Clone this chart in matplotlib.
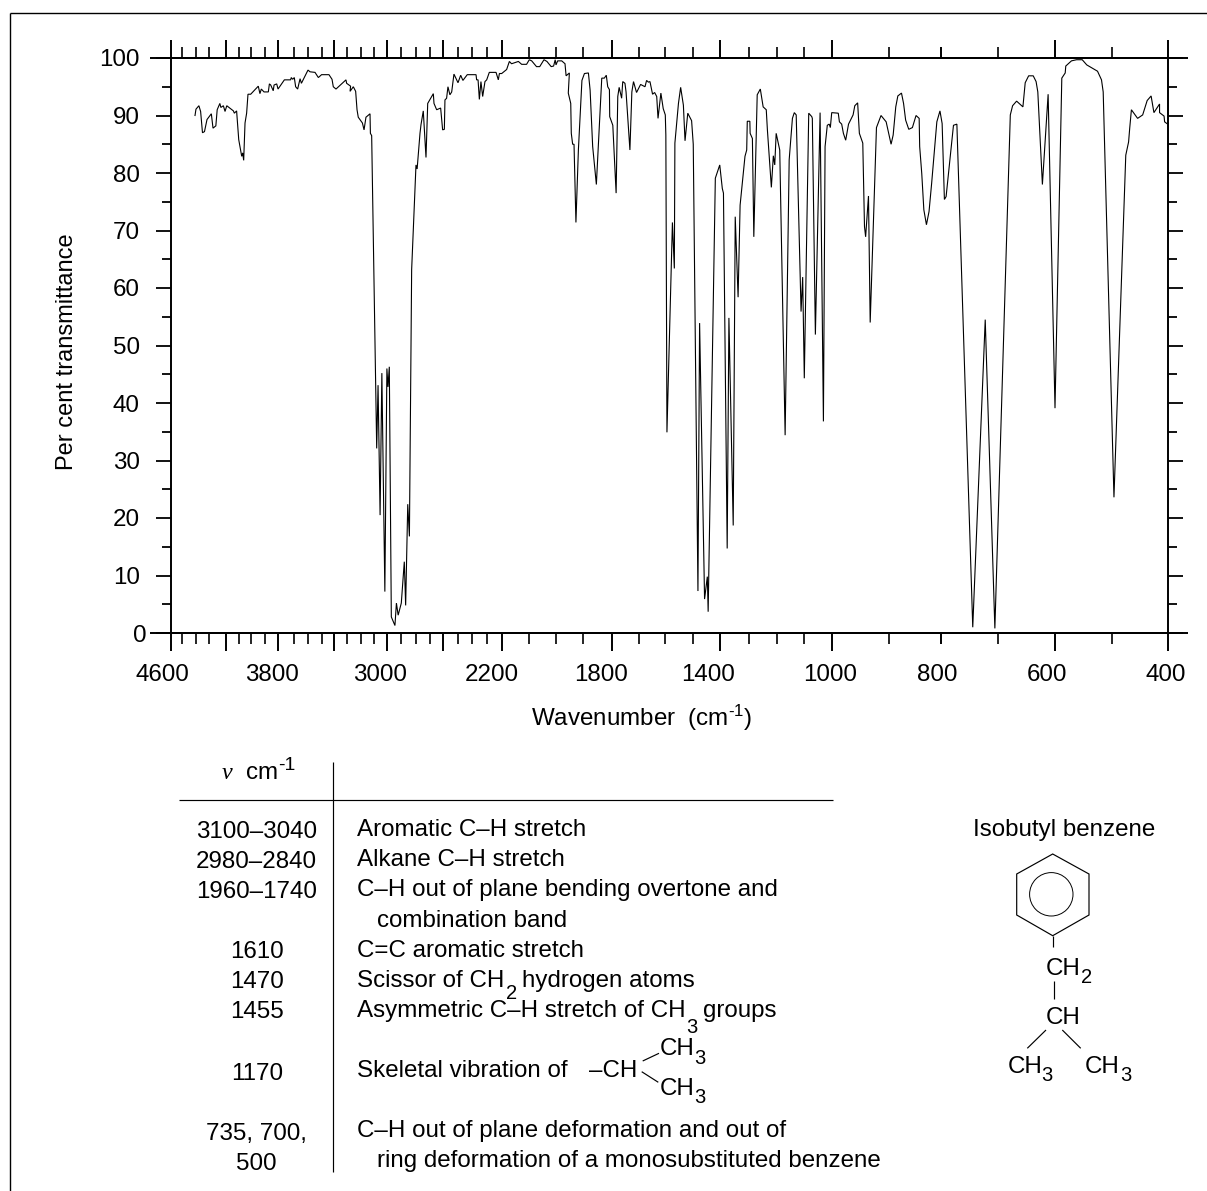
import numpy as np
import matplotlib
matplotlib.use("Agg")
import matplotlib.pyplot as plt
from matplotlib.transforms import ScaledTranslation
from matplotlib.patches import Circle, Polygon

plt.rcParams['font.family'] = 'Liberation Sans'
plt.rcParams['mathtext.fontset'] = 'custom'
plt.rcParams['mathtext.rm'] = 'Liberation Sans'
plt.rcParams['mathtext.it'] = 'Liberation Sans:italic'
plt.rcParams['mathtext.default'] = 'rm'

# --- spectrum ----------------------------------------------------------
wavenumber = [
 4405,4398,4376,4363,4349,4334,4315,4286,4276,4259,4251,4235,4229,4214,4204,4192,4142,4135,4118,4110,4102,
 4078,4070,4062,4051,4038,4027,4005,3949,3937,3927,3907,3875,3867,3857,3838,3832,3812,3802,3762,3723,3719,
 3710,3700,3690,3675,3657,3647,3598,3584,3550,3527,3505,3443,3417,3406,3385,3310,3305,3276,3280,3256,3239,
 3229,3220,3189,3176,3161,3129,3126,3116,
 3078,3068,3053,3040,3018,3003,2995,2985,2970,2943,2932,2919,2896,2876,2867,2853,2842,2827,
 2798,2790,2770,2763,2747,2728,2716,2675,2670,2650,2620,2605,2593,2589,2578,2569,2556,2544,2529,2522,2502,
 2483,2467,2436,2374,2370,2360,2351,2340,2328,2312,2300,2283,2239,2224,2217,2202,2183,2173,2165,2140,2128,
 2110,2100,2091,2073,2061,2045,2034,2018,2009,2003,2000,1994,1979,1967,
 1963,1951,1955,1946,1944,1939,1934,1927,1918,1905,1896,1882,1876,1867,1854,1835,1826,1819,1814,1808,1807,
 1796,1784,1778,1773,1764,1760,1752,1748,1734,1727,1721,1710,1695,1678,1672,1665,1659,1649,1641,1633,1628,
 1617,1608,1600,1598,1594,1574,1567,1565,1552,1544,1534,1528,1518,1504,1498,
 1481,1475,1457,1447,1444,1418,1402,1393,1389,1376,1370,1355,1348,1338,1331,1314,1308,1306,1297,1296,1288,
 1283,1271,1260,1250,1239,1235,1221,1214,1209,1204,1191,1171,1156,1144,1137,1130,1112,1106,1100,1084,1073,
 1071,1060,1043,1031,1025,1017,1010,1006,1001,989,987,983,980,976,971,963,960,955,952,
 946,943,941,936,933,922,914,905,896,892,887,883,876,872,868,862,855,848,842,841,837,833,828,823,818,808,802,
 798,794,791,778,772,744,722,705,678,674,667,656,652,646,638,633,630,622,612,600,588,582,581,571,562,552,544,
 525,518,515,496,475,470,468,465,454,445,437,430,425,415,415,407,406,402]

transmittance = [
 90.0,91.1,91.7,90.7,87.0,87.2,89.3,90.3,87.8,88.2,91.0,92.1,91.4,91.7,90.7,91.7,90.8,90.4,90.8,88.4,85.8,
 82.9,83.5,82.2,88.7,90.4,93.7,93.7,95.1,93.8,94.6,94.1,94.1,95.5,95.3,94.3,95.3,95.5,94.6,96.2,96.2,96.6,
 96.3,96.6,95.0,94.6,96.4,95.6,97.9,97.6,97.5,96.6,97.1,97.1,96.3,95.0,94.6,96.2,95.6,95.1,94.2,95.0,94.2,
 91.0,89.7,88.7,87.5,89.7,90.3,86.9,86.5,
 32.1,43.1,20.5,45.2,7.2,46.0,42.8,46.3,2.8,1.3,5.2,3.1,5.2,12.4,4.8,22.4,16.8,63.2,
 81.4,80.7,86.9,88.4,90.8,82.7,92.1,93.8,92.1,91.0,91.3,87.5,87.6,92.7,93.0,95.0,93.6,94.1,97.2,96.8,95.7,
 97.0,96.1,97.1,97.1,96.2,96.2,92.8,95.9,93.3,95.9,96.2,97.5,97.5,96.2,97.3,97.3,98.0,99.4,99.0,99.4,98.9,
 98.9,99.7,99.5,98.5,98.5,99.7,99.4,98.5,98.6,99.7,98.8,99.5,99.5,99.0,
 96.9,97.4,93.9,92.1,86.9,85.0,85.0,71.4,84.0,96.1,97.3,97.4,94.4,84.6,78.0,96.5,96.5,97.0,95.0,94.5,89.8,
 88.3,76.5,93.3,94.9,93.0,95.9,95.6,94.1,84.0,94.1,95.9,94.0,95.4,95.0,96.1,95.8,95.9,93.7,94.0,93.3,89.5,
 93.9,91.2,90.1,86.6,34.9,71.4,63.4,85.2,92.1,94.9,91.8,85.6,90.4,89.1,85.0,
 7.3,53.9,5.9,9.8,3.7,79.1,81.4,77.3,76.5,14.7,54.8,18.7,72.4,58.4,74.4,82.9,84.0,89.0,89.0,86.9,86.0,
 68.9,93.6,94.6,91.5,91.0,87.5,77.5,83.0,81.4,86.9,84.0,34.4,82.3,89.5,90.5,90.1,55.9,61.9,44.3,90.4,89.8,
 89.5,51.9,90.5,36.8,84.6,88.3,88.5,87.9,90.5,90.4,88.9,88.5,86.9,85.7,88.5,90.1,91.7,92.2,86.9,
 85.2,70.7,68.9,76.0,54.0,87.9,90.0,88.9,85.0,86.6,91.5,93.4,93.9,92.1,89.2,87.6,87.9,90.0,89.5,84.6,79.9,73.6,
 71.0,73.3,78.2,88.9,90.8,88.6,75.4,75.9,88.3,88.5,1.0,54.5,0.8,90.1,91.7,92.5,91.5,95.7,96.9,96.9,95.9,94.1,
 78.0,93.7,39.1,96.5,97.4,98.6,99.5,99.7,99.7,98.8,97.7,96.2,94.1,23.6,83.1,85.4,87.8,91.0,89.5,90.1,92.6,93.4,
 90.5,92.0,90.5,89.9,88.9,88.6]

# --- axis scale: tick spacing of the printed chart changes along the axis
knot_wn = [4600,4500,4400,4300,4200,4100,4000,3900,3800,3700,3600,3500,3400,3300,3200,3100,3000,2900,2800,2700,
           2600,2500,2400,2300,2200,2100,2000,1900,1800,1700,1600,1500,1400,1300,1200,1100,1000,900,800,700,600,500,400]
knot_px = [170.5,182,195.7,209,225.7,239,251.3,265,278.3,294.3,307.7,322.3,334,347.3,361,373.7,387.3,400.7,415.7,430,
           443.3,458.3,472.3,486.7,502,529.3,556,583.3,611.7,639.3,665.3,692.7,720.3,749,777.3,804.3,832,889,941,997.7,1055,1111.7,1168]
wn_asc, neg_px = np.array(knot_wn[::-1], float), -np.array(knot_px[::-1], float)

def forward(w):
    return np.interp(w, wn_asc, neg_px)

def inverse(p):
    return np.interp(p, neg_px, wn_asc)

major_wn = [4600,4200,3800,3400,3000,2600,2200,1800,1400,1000,800,600,400]
major_labels = ['4600','','3800','','3000','','2200','1800','1400','1000','800','600','400']
label_shift_px = [-8,0,-6,0,-7,0,-10,-11,-12,-1.5,-4,-8,-2]
y_major = list(range(0, 101, 10))
y_minor = list(range(5, 100, 10))

W, H = 1207, 1191
FS = 17.4
fig = plt.figure(figsize=(W/100, H/100), dpi=100, facecolor='white')
L, R, T, B = 170.5, 1168, 58, 633
ax = fig.add_axes([L/W, 1-B/H, (R-L)/W, (B-T)/H])
ax.set_xscale('function', functions=(forward, inverse))
ax.plot(wavenumber, transmittance, color='black', lw=0.8, solid_joinstyle='miter', clip_on=False)

ax.set_xticks(major_wn, major_labels)
ax.set_xticks([w for w in knot_wn if w not in major_wn], minor=True)
ax.set_xlim(4600, 400)
ax.set_ylim(0, 100)
ax.set_yticks(y_major)
ax.set_yticks(y_minor, minor=True)
ax.tick_params(axis='x', which='major', direction='out', top=True, bottom=True, length=13, width=1.4, labelsize=FS, pad=9.5)
ax.tick_params(axis='x', which='minor', direction='out', top=True, bottom=True, length=7.6, width=1.2)
ax.tick_params(axis='y', which='major', direction='out', left=True, right=True, length=10.8, width=1.3, labelsize=FS, pad=11.5)
ax.tick_params(axis='y', which='minor', direction='out', left=True, right=True, length=6.2, width=1.3)
for s in ax.spines.values():
    s.set_linewidth(1.4)

for tick, w, dx in zip(ax.xaxis.get_major_ticks(), major_wn, label_shift_px):
    tick.label1.set_transform(tick.label1.get_transform() + ScaledTranslation(dx/100, 0, fig.dpi_scale_trans))
    if w == 800:
        tick.tick1line.set_markersize(7.6)
        tick.tick2line.set_markersize(7.6)
for tick, v in zip(ax.yaxis.get_major_ticks(), y_major):
    if v == 0:
        tick.label1.set_transform(tick.label1.get_transform() + ScaledTranslation(7/100, 0, fig.dpi_scale_trans))

ax.set_xlabel("Wavenumber  (cm$^{\u20101}$)", fontsize=FS)
ax.xaxis.set_label_coords(0.472, -0.1217)
ax.set_ylabel("Per cent transmittance", fontsize=17.0)
ax.yaxis.set_label_coords(-0.0925, 0.489)

# --- overlay in picture coordinates for the frame, table and structure --
ov = fig.add_axes([0, 0, 1, 1], facecolor='none')
ov.set_xlim(0, W)
ov.set_ylim(H, 0)
ov.axis('off')

def line(xs, ys, lw=0.85):
    ov.plot(xs, ys, color='black', lw=lw, solid_capstyle='butt')

def txt(x, y, s, size=FS, ha='left', **kw):
    ov.text(x, y, s, fontsize=size, ha=ha, va='baseline', color='black', **kw)

# outer frame
line([9.5, 9.5], [12.5, H], 1.0)
line([9.5, W], [12.5, 12.5], 1.0)
# long 100 and 0 rules
line([150, 1188], [T, T], 1.4)
line([150, 1188], [B, B], 1.4)

# table
line([333.3, 333.3], [762, 1172])
line([178.7, 833], [799.5, 799.5])
ov.text(221.7, 779, "\u03bd", fontsize=FS, family='Liberation Serif', style='italic', va='baseline')
txt(245.7, 779, "cm")
txt(277.7, 770, "-1", 14)

freq = ["3100\u20133040", "2980\u20132840", "1960\u20131740", "1610", "1470", "1455", "1170", "735, 700,", "500"]
freq_y = [838, 868, 898, 958, 988, 1018, 1080, 1140, 1170]
for s, y in zip(freq, freq_y):
    txt(256.7, y, s, ha='center')

txt(356.7, 836, "Aromatic C\u2013H stretch")
txt(356.7, 866, "Alkane C\u2013H stretch")
txt(356.7, 896, "C\u2013H out of plane bending overtone and")
txt(376.7, 927, "combination band")
txt(356.7, 957, "C=C aromatic stretch")
txt(356.7, 987, "Scissor of CH")
txt(505.7, 999, "2", 14.5)
txt(521.7, 987, "hydrogen atoms")
txt(356.7, 1017, "Asymmetric C\u2013H stretch of CH")
txt(686.7, 1033, "3", 14.5)
txt(703, 1017, "groups")
txt(356.7, 1077, "Skeletal vibration of")
txt(589.3, 1077, "\u2013CH")
txt(659.3, 1055, "CH")
txt(694, 1064, "3", 14.5)
txt(659.3, 1095, "CH")
txt(694, 1103, "3", 14.5)
line([642.7, 659], [1061, 1053.3])
line([641.7, 658.3], [1071.7, 1082.3])
txt(356.7, 1137, "C\u2013H out of plane deformation and out of")
txt(377, 1167, "ring deformation of a monosubstituted benzene")

# structure
txt(1064, 836, "Isobutyl benzene", ha='center')
ov.add_patch(Polygon([(1052.7, 854), (1089, 874), (1089, 915), (1052.7, 935.7), (1016.7, 915), (1016.7, 874)],
                     closed=True, fill=False, ec='black', lw=0.85))
ov.add_patch(Circle((1051.3, 894.3), 21.7, fill=False, ec='black', lw=0.7))
line([1052.7, 1052.7], [935.7, 947.3])
txt(1046, 975, "CH")
txt(1080.7, 983, "2", 14.5)
line([1054, 1054], [980.7, 999.3])
txt(1046, 1024, "CH")
line([1046, 1027.3], [1030, 1048.3])
line([1062.3, 1080.7], [1030, 1048.3])
txt(1007.3, 1073.3, "CH")
txt(1041.7, 1081, "3", 14.5)
txt(1085, 1073.3, "CH")
txt(1120, 1081, "3", 14.5)

fig.savefig("out.png", dpi=100)
assert len(wavenumber) == len(transmittance), (len(wavenumber), len(transmittance))
